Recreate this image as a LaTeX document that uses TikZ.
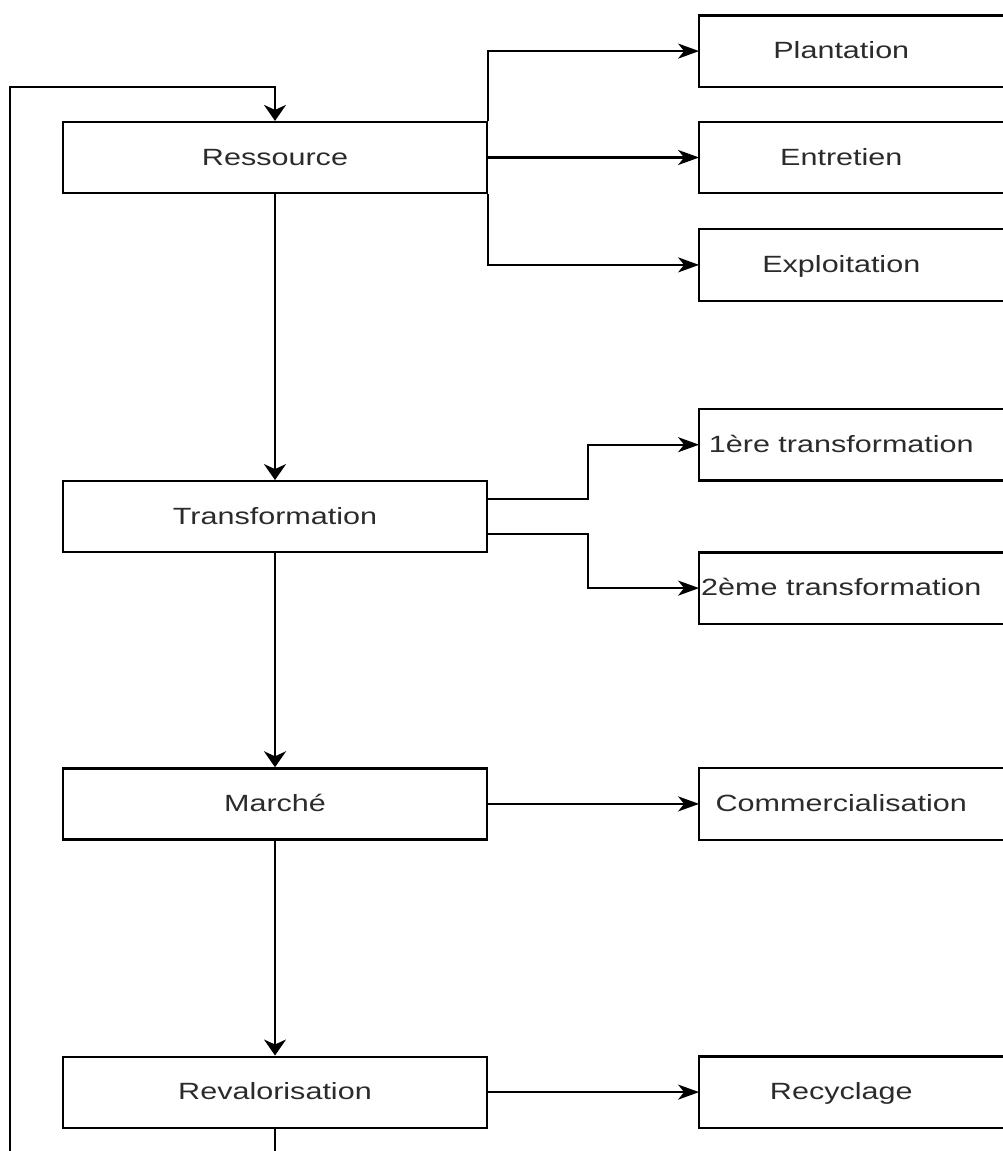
\documentclass[tikz,border=0pt]{standalone}
\usepackage{fontspec}
\setmainfont{Liberation Sans}[FakeStretch=1.3]
\usetikzlibrary{arrows.meta,positioning}
\definecolor{LabelGray}{HTML}{2B2B2B}

\begin{document}
\begin{tikzpicture}[
  x=1pt,y=-1pt,
  every node/.style={font=\fontsize{23.5}{28}\selectfont,text=LabelGray,align=center,text height=17pt,text depth=2pt},
  box/.style={draw,line width=2.2pt,minimum width=424pt,minimum height=71pt,inner sep=0pt},
  sidebox/.style={minimum width=284pt,minimum height=71pt,inner sep=0pt},
  varr/.style={-{Stealth[length=16pt,width=22pt,inset=5pt]},line width=2.2pt},
  harr/.style={-{Stealth[length=21pt,width=15pt,inset=6pt]},line width=2.2pt}
]
\useasboundingbox (0,0) rectangle (1003,1151);
% main chain
\node[box] (res) at (275,157.5) {Ressource};
\node[box,below=286pt of res] (tra) {Transformation};
\node[box,below=214pt of tra] (mar) {Marché};
\node[box,below=215pt of mar] (rev) {Revalorisation};
% side steps
\node[sidebox,right=211pt of res] (entr) {Entretien};
\node[sidebox,above=35pt of entr] (plant) {Plantation};
\node[sidebox,below=36pt of entr] (expl) {Exploitation};
\node[sidebox,right=211pt of tra,yshift=72pt] (trone) {1ère transformation};
\node[sidebox,below=72pt of trone] (trtwo) {2ème transformation};
\node[sidebox,right=211pt of mar] (comm) {Commercialisation};
\node[sidebox,right=211pt of rev] (recy) {Recyclage};
\foreach \n in {plant,entr,expl,trone,trtwo,comm,recy}
  \draw[line width=2.2pt] ([xshift=60pt]\n.north east) -- (\n.north west) -- (\n.south west) -- ([xshift=60pt]\n.south east);
% connectors
\draw[varr] (res.south) -- (tra.north);
\draw[varr] (tra.south) -- (mar.north);
\draw[varr] (mar.south) -- (rev.north);
\draw[harr] (res.north east) |- (plant.west);
\draw[harr] (res.east) -- (entr.west);
\draw[harr] (res.south east) |- (expl.west);
\draw[harr] ([yshift=17.5pt]tra.east) -- ++(100pt,0) |- (trone.west);
\draw[harr] ([yshift=-17.5pt]tra.east) -- ++(100pt,0) |- (trtwo.west);
\draw[harr] (mar.east) -- (comm.west);
\draw[harr] (rev.east) -- (recy.west);
% loop back
\coordinate (back) at (10,1180);
\coordinate (bend) at (10,87);
\draw[varr] (rev.south) |- (back) -- (bend) -| (res.north);
\end{tikzpicture}
\end{document}
